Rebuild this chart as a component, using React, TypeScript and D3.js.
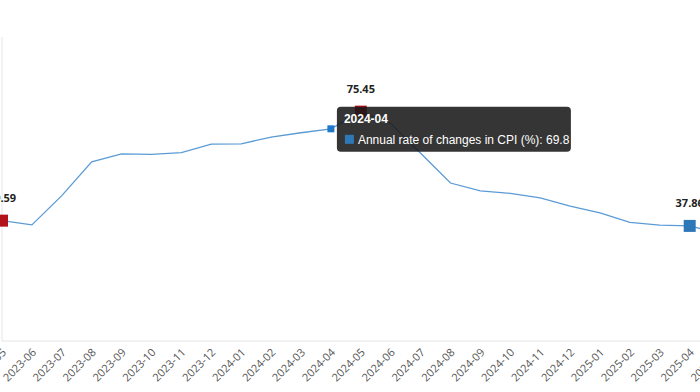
import { useEffect, useRef } from 'react'
import * as d3 from 'd3'

// months shown (the window is scrolled: first label and last point are cut off)
const months = [
  '2023-05', '2023-06', '2023-07', '2023-08', '2023-09', '2023-10', '2023-11', '2023-12',
  '2024-01', '2024-02', '2024-03', '2024-04', '2024-05', '2024-06', '2024-07', '2024-08',
  '2024-09', '2024-10', '2024-11', '2024-12', '2025-01', '2025-02', '2025-03', '2025-04', '2025-05'
]
const cpi = [
  39.59, 38.21, 47.83, 58.94, 61.53, 61.36, 61.98, 64.77,
  64.86, 67.07, 68.5, 69.8, 75.45, 71.6, 61.78, 51.97,
  49.38, 48.58, 47.09, 44.38, 42.12, 39.05, 38.1, 37.86, 35.41
]
const seriesName = 'Annual rate of changes in CPI (%)'
const highMarks = ['2023-05', '2024-05']
const lowMarks = ['2025-04']
const hovered = '2024-04'

export default function App() {
  const svgRef = useRef<SVGSVGElement>(null)

  useEffect(() => {
    if (!svgRef.current) return
    const svg = d3.select(svgRef.current)
    svg.selectAll('*').remove()

    const left = 2
    const top = 37
    const bottom = 341
    const step = 29.9

    const data = months.map((m, i) => ({ m, v: cpi[i] }))

    const x = d3.scalePoint<string>()
      .domain(months)
      .range([left, left + step * (months.length - 1)])
      .padding(0)

    const y = d3.scaleLinear()
      .domain([0, 100])
      .range([bottom, top])

    // axes lines
    svg.append('line')
      .attr('x1', left).attr('x2', left)
      .attr('y1', top).attr('y2', bottom)
      .attr('stroke', '#e6e6e6')
    svg.append('line')
      .attr('x1', left).attr('x2', 700)
      .attr('y1', bottom).attr('y2', bottom)
      .attr('stroke', '#e6e6e6')

    // x labels
    svg.append('g')
      .selectAll('text')
      .data(months)
      .enter().append('text')
      .attr('transform', d => `translate(${(x(d) as number) + 5},${bottom + 12}) rotate(-45)`)
      .attr('text-anchor', 'end')
      .style('font-family', '"Open Sans", sans-serif')
      .style('font-size', '11px')
      .style('fill', '#555')
      .text(d => d)

    // line
    const line = d3.line<{ m: string; v: number }>()
      .x(d => x(d.m) as number)
      .y(d => y(d.v))
    svg.append('path')
      .datum(data)
      .attr('d', line)
      .attr('fill', 'none')
      .attr('stroke', '#5b9bd5')
      .attr('stroke-width', 1.3)

    // marks
    const marks = data.filter(d => highMarks.includes(d.m) || lowMarks.includes(d.m))
    svg.append('g')
      .selectAll('rect')
      .data(marks)
      .enter().append('rect')
      .attr('x', d => (x(d.m) as number) - 6)
      .attr('y', d => y(d.v) - 6)
      .attr('width', 12)
      .attr('height', 12)
      .attr('fill', d => highMarks.includes(d.m) ? '#b3141c' : '#2e78b8')
    svg.append('g')
      .selectAll('text')
      .data(marks)
      .enter().append('text')
      .attr('x', d => x(d.m) as number)
      .attr('y', d => y(d.v) - 19)
      .attr('text-anchor', 'middle')
      .style('font-family', '"Open Sans", sans-serif')
      .style('font-size', '11px')
      .style('font-weight', 'bold')
      .style('fill', '#222')
      .text(d => d.v.toFixed(2))

    // hovered point
    const h = data.find(d => d.m === hovered)!
    const hx = x(h.m) as number
    const hy = y(h.v)
    svg.append('rect')
      .attr('x', hx - 3.5).attr('y', hy - 3.5)
      .attr('width', 7).attr('height', 7)
      .attr('fill', '#1f78c8')

    // tooltip
    const tip = svg.append('g')
      .attr('transform', `translate(${hx + 6},${hy - 22})`)
    tip.append('rect')
      .attr('width', 234).attr('height', 45)
      .attr('rx', 4)
      .attr('fill', 'rgba(25,25,25,0.88)')
    tip.append('text')
      .attr('x', 7).attr('y', 16)
      .style('font-family', '"Liberation Sans", Arial, sans-serif')
      .style('font-size', '12px')
      .style('font-weight', 'bold')
      .style('fill', '#fff')
      .text(h.m)
    tip.append('rect')
      .attr('x', 8).attr('y', 28)
      .attr('width', 9).attr('height', 9)
      .attr('fill', '#2e78b8')
    tip.append('text')
      .attr('x', 21).attr('y', 37)
      .style('font-family', '"Liberation Sans", Arial, sans-serif')
      .style('font-size', '12px')
      .style('fill', '#fff')
      .text(`${seriesName}: ${h.v}`)
  }, [])

  return (
    <svg
      ref={svgRef}
      width={700}
      height={392}
      style={{ position: 'absolute', left: 0, top: 0, background: '#fff' }}
    />
  )
}
